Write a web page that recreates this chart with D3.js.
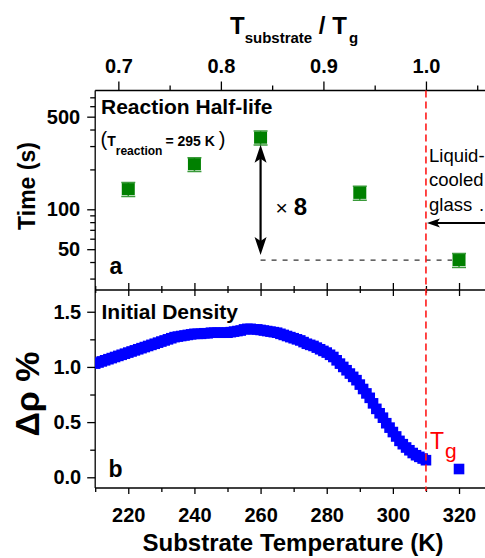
<!DOCTYPE html>
<html>
<head>
<meta charset="utf-8">
<title>Reaction half-life and initial density</title>
<script src="https://cdn.jsdelivr.net/npm/d3@7"></script>
<style>
  * { margin: 0; padding: 0; }
  body { background: #fff; }
  svg { display: block; font-family: "Liberation Sans", Arial, sans-serif; }
</style>
</head>
<body>
<div id="chart"></div>
<script>
// panel a: reaction half-life (s) vs substrate temperature (K)
var halfLifeTemps = [220, 240, 260, 290, 320];
var halfLifeTimes = [142, 219, 347, 133, 41.4];
var halfLifeErr = [17, 26, 42, 16, 5];

// panel b: initial density change (%) vs substrate temperature (K)
var densityTemps = [210, 211, 212, 213, 214, 215, 216, 217, 218, 219,
  220, 221, 222, 223, 224, 225, 226, 227, 228, 229,
  230, 231, 232, 233, 234, 235, 236, 237, 238, 239,
  240, 241, 242, 243, 244, 245, 246, 247, 248, 249,
  250, 251, 252, 253, 254, 255, 256, 257, 258, 259,
  260, 261, 262, 263, 264, 265, 266, 267, 268, 269,
  270, 271, 272, 273, 274, 275, 276, 277, 278, 279,
  280, 281, 282, 283, 284, 285, 286, 287, 288, 289,
  290, 291, 292, 293, 294, 295, 296, 297, 298, 299,
  300, 301, 302, 303, 304, 305, 306, 307, 308, 309,
  310, 320];
var densityValues = [1.03, 1.04, 1.05, 1.06, 1.07, 1.08, 1.09, 1.10, 1.11, 1.12,
  1.13, 1.14, 1.15, 1.16, 1.17, 1.18, 1.19, 1.20, 1.21, 1.22,
  1.23, 1.24, 1.25, 1.26, 1.27, 1.275, 1.28, 1.285, 1.29, 1.295,
  1.30, 1.30, 1.30, 1.305, 1.305, 1.31, 1.31, 1.31, 1.31, 1.31,
  1.31, 1.315, 1.32, 1.325, 1.33, 1.34, 1.345, 1.345, 1.34, 1.34,
  1.335, 1.33, 1.325, 1.32, 1.315, 1.31, 1.30, 1.29, 1.28, 1.27,
  1.26, 1.25, 1.24, 1.225, 1.21, 1.20, 1.19, 1.175, 1.16, 1.145,
  1.13, 1.11, 1.09, 1.06, 1.03, 1.00, 0.97, 0.94, 0.91, 0.88,
  0.84, 0.80, 0.76, 0.72, 0.67, 0.62, 0.58, 0.54, 0.49, 0.45,
  0.41, 0.37, 0.33, 0.30, 0.27, 0.245, 0.22, 0.20, 0.185, 0.17,
  0.155, 0.075];

var tgKelvin = 310;
var tempTicks = [220, 240, 260, 280, 300, 320];
var tempMinorTicks = [210, 230, 250, 270, 290, 310, 330];
var ratioTicks = [0.7, 0.8, 0.9, 1.0];
var ratioMinorTicks = [0.75, 0.85, 0.95, 1.05];
var timeTicks = [50, 100, 500];
var timeMinorTicks = [30, 40, 60, 70, 80, 90, 200, 300, 400, 600, 700];
var densityTicks = [0, 0.5, 1.0, 1.5];
var densityMinorTicks = [0.25, 0.75, 1.25];

var width = 485, height = 558;
var plotLeft = 95.2, plotRight = 492.1;
var aTop = 90.5, midY = 290, bBottom = 488;
var fontFam = '"Liberation Sans", Arial, sans-serif';

var x = d3.scaleLinear().domain([210, 330]).range([plotLeft, plotRight]);
var xRatio = d3.scaleLinear().domain([210 / tgKelvin, 330 / tgKelvin]).range([plotLeft, plotRight]);
var yTime = d3.scaleLog().domain([24.6, 788]).range([midY, aTop]);
var yDens = d3.scaleLinear().domain([-0.097, 1.697]).range([bBottom, midY]);

var svg = d3.select('#chart').append('svg')
    .attr('width', width)
    .attr('height', height);

var defs = svg.append('defs');
defs.append('clipPath').attr('id', 'clipA').append('rect')
    .attr('x', plotLeft).attr('y', aTop).attr('width', plotRight - plotLeft).attr('height', midY - aTop);
defs.append('clipPath').attr('id', 'clipB').append('rect')
    .attr('x', plotLeft).attr('y', midY).attr('width', plotRight - plotLeft).attr('height', bBottom - midY);

function styleAxis(g, size) {
  g.select('.domain').remove();
  g.selectAll('line').attr('stroke', '#000').attr('stroke-width', 1.3);
  g.selectAll('text')
      .attr('font-size', size)
      .attr('font-weight', 'bold')
      .attr('font-family', fontFam)
      .attr('fill', '#000');
}

// top axis (T/Tg)
svg.append('g').attr('transform', 'translate(0,' + aTop + ')')
    .call(d3.axisTop(xRatio).tickValues(ratioTicks).tickSize(9).tickPadding(9).tickFormat(d3.format('.1f')))
    .call(styleAxis, 20);
svg.append('g').attr('transform', 'translate(0,' + aTop + ')')
    .call(d3.axisTop(xRatio).tickValues(ratioMinorTicks).tickSize(5).tickFormat(''))
    .call(styleAxis, 20);

// shared middle axis, ticks crossing the line
[[tempTicks, 7], [tempMinorTicks, 4]].forEach(function(t) {
  svg.append('g').attr('transform', 'translate(0,' + midY + ')')
      .call(d3.axisTop(x).tickValues(t[0]).tickSize(t[1]).tickFormat(''))
      .call(styleAxis, 20);
  svg.append('g').attr('transform', 'translate(0,' + midY + ')')
      .call(d3.axisBottom(x).tickValues(t[0]).tickSize(t[1] - 1).tickFormat(''))
      .call(styleAxis, 20);
});

// bottom axis
svg.append('g').attr('transform', 'translate(0,' + bBottom + ')')
    .call(d3.axisBottom(x).tickValues(tempTicks).tickSize(6).tickPadding(13.5).tickFormat(d3.format('d')))
    .call(styleAxis, 20);
svg.append('g').attr('transform', 'translate(0,' + bBottom + ')')
    .call(d3.axisBottom(x).tickValues(tempMinorTicks).tickSize(4).tickFormat(''))
    .call(styleAxis, 20);

// left axis panel a (log)
svg.append('g').attr('transform', 'translate(' + plotLeft + ',0)')
    .call(d3.axisLeft(yTime).tickValues(timeTicks).tickSize(8).tickPadding(7).tickFormat(d3.format('d')))
    .call(styleAxis, 20);
svg.append('g').attr('transform', 'translate(' + plotLeft + ',0)')
    .call(d3.axisLeft(yTime).tickValues(timeMinorTicks).tickSize(5).tickFormat(''))
    .call(styleAxis, 20);

// left axis panel b
svg.append('g').attr('transform', 'translate(' + plotLeft + ',0)')
    .call(d3.axisLeft(yDens).tickValues(densityTicks).tickSize(8).tickPadding(6).tickFormat(d3.format('.1f')))
    .call(styleAxis, 20);
svg.append('g').attr('transform', 'translate(' + plotLeft + ',0)')
    .call(d3.axisLeft(yDens).tickValues(densityMinorTicks).tickSize(5).tickFormat(''))
    .call(styleAxis, 20);

// frame lines
var frame = svg.append('g').attr('stroke', '#000').attr('stroke-width', 1.3);
frame.append('line').attr('x1', plotLeft).attr('x2', plotLeft).attr('y1', aTop).attr('y2', bBottom);
frame.append('line').attr('x1', plotLeft).attr('x2', plotRight).attr('y1', aTop).attr('y2', aTop);
frame.append('line').attr('x1', plotLeft).attr('x2', plotRight).attr('y1', midY).attr('y2', midY);
frame.append('line').attr('x1', plotLeft).attr('x2', plotRight).attr('y1', bBottom).attr('y2', bBottom);

// ---- panel a marks ----
var gA = svg.append('g').attr('clip-path', 'url(#clipA)');
var halfData = halfLifeTemps.map(function(t, i) {
  return {t: t, v: halfLifeTimes[i], e: halfLifeErr[i]};
});

// dashed reference level from the 260 K point to the 320 K point
gA.append('line')
    .attr('x1', x(260)).attr('x2', x(320) - 7)
    .attr('y1', yTime(halfLifeTimes[4])).attr('y2', yTime(halfLifeTimes[4]))
    .attr('stroke', '#333').attr('stroke-width', 1.2).attr('stroke-dasharray', '5,6');

var errG = gA.selectAll('g.err').data(halfData).enter().append('g')
    .attr('stroke', '#3a9a3a').attr('stroke-width', 1.5);
errG.append('line')
    .attr('x1', function(d) { return x(d.t); }).attr('x2', function(d) { return x(d.t); })
    .attr('y1', function(d) { return yTime(d.v - d.e); }).attr('y2', function(d) { return yTime(d.v + d.e); });
errG.append('line')
    .attr('x1', function(d) { return x(d.t) - 7; }).attr('x2', function(d) { return x(d.t) + 7; })
    .attr('y1', function(d) { return yTime(d.v - d.e); }).attr('y2', function(d) { return yTime(d.v - d.e); });
errG.append('line')
    .attr('x1', function(d) { return x(d.t) - 7; }).attr('x2', function(d) { return x(d.t) + 7; })
    .attr('y1', function(d) { return yTime(d.v + d.e); }).attr('y2', function(d) { return yTime(d.v + d.e); });

gA.selectAll('rect.pt').data(halfData).enter().append('rect')
    .attr('class', 'pt')
    .attr('x', function(d) { return x(d.t) - 6.5; })
    .attr('y', function(d) { return yTime(d.v) - 6; })
    .attr('width', 13).attr('height', 12)
    .attr('fill', '#008000');

// vertical double arrow (x 8)
var ax = x(260), ay1 = yTime(halfLifeTimes[2]) + 7, ay2 = yTime(halfLifeTimes[4]) - 5;
svg.append('line').attr('x1', ax).attr('x2', ax).attr('y1', ay1 + 10).attr('y2', ay2 - 10)
    .attr('stroke', '#000').attr('stroke-width', 2.2);
svg.append('path')
    .attr('d', 'M' + ax + ',' + ay1 + 'L' + (ax - 6) + ',' + (ay1 + 18) + 'L' + ax + ',' + (ay1 + 14) + 'L' + (ax + 6) + ',' + (ay1 + 18) + 'Z')
    .attr('fill', '#000');
svg.append('path')
    .attr('d', 'M' + ax + ',' + ay2 + 'L' + (ax - 6) + ',' + (ay2 - 18) + 'L' + ax + ',' + (ay2 - 14) + 'L' + (ax + 6) + ',' + (ay2 - 18) + 'Z')
    .attr('fill', '#000');

var times = svg.append('text').attr('x', ax + 15).attr('y', 215).attr('fill', '#000');
times.append('tspan').attr('font-size', 21).text('\u00d7');
times.append('tspan').attr('dx', 6).attr('font-size', 24).attr('font-weight', 'bold').text('8');

// horizontal double arrow (liquid-cooled glass region)
var hx1 = x(tgKelvin) + 1, hx2 = plotRight + 6, hy = 223;
svg.append('line').attr('x1', hx1 + 8).attr('x2', hx2 - 8).attr('y1', hy).attr('y2', hy)
    .attr('stroke', '#000').attr('stroke-width', 2);
svg.append('path')
    .attr('d', 'M' + hx1 + ',' + hy + 'L' + (hx1 + 13) + ',' + (hy - 4.5) + 'L' + (hx1 + 10) + ',' + hy + 'L' + (hx1 + 13) + ',' + (hy + 4.5) + 'Z')
    .attr('fill', '#000');
svg.append('path')
    .attr('d', 'M' + hx2 + ',' + hy + 'L' + (hx2 - 13) + ',' + (hy - 4.5) + 'L' + (hx2 - 10) + ',' + hy + 'L' + (hx2 - 13) + ',' + (hy + 4.5) + 'Z')
    .attr('fill', '#000');

var glassLines = ['Liquid-', 'cooled', 'glass'];
svg.selectAll('text.glass').data(glassLines).enter().append('text')
    .attr('class', 'glass')
    .attr('x', 429)
    .attr('y', function(d, i) { return 162 + i * 24.3; })
    .attr('font-size', 18.5)
    .attr('fill', '#000')
    .text(function(d) { return d; });
svg.append('text').attr('x', 479).attr('y', 210.5).attr('font-size', 18.5).attr('fill', '#000').text('.');

// panel a labels
svg.append('text').attr('x', 101).attr('y', 113.5)
    .attr('font-size', 21).attr('font-weight', 'bold').attr('fill', '#000')
    .text('Reaction Half-life');
var cond = svg.append('text').attr('x', 100.5).attr('y', 145.5).attr('font-weight', 'bold').attr('fill', '#000');
cond.append('tspan').attr('font-size', 20).attr('font-weight', 'normal').text('(');
cond.append('tspan').attr('font-size', 14).text('T');
cond.append('tspan').attr('font-size', 12).attr('dy', 9.5).text('reaction');
cond.append('tspan').attr('font-size', 14).attr('dy', -9.5).attr('dx', 3).text('= 295 K');
cond.append('tspan').attr('font-size', 20).attr('font-weight', 'normal').attr('dx', 4).text(')');

svg.append('text').attr('x', 109.5).attr('y', 273.5)
    .attr('font-size', 23).attr('font-weight', 'bold').attr('fill', '#000').text('a');

// ---- panel b marks ----
var gB = svg.append('g').attr('clip-path', 'url(#clipB)');
var densData = densityTemps.map(function(t, i) { return {t: t, v: densityValues[i]}; });
gB.selectAll('rect.dens').data(densData).enter().append('rect')
    .attr('class', 'dens')
    .attr('x', function(d) { return x(d.t) - 5.3; })
    .attr('y', function(d) { return yDens(d.v) - 5.3; })
    .attr('width', 10.6).attr('height', 10.6)
    .attr('fill', '#0000ff');

svg.append('text').attr('x', 101.5).attr('y', 318.5)
    .attr('font-size', 21).attr('font-weight', 'bold').attr('fill', '#000')
    .text('Initial Density');
svg.append('text').attr('x', 108.5).attr('y', 476.5)
    .attr('font-size', 23).attr('font-weight', 'bold').attr('fill', '#000').text('b');

// Tg line
svg.append('line')
    .attr('x1', x(tgKelvin)).attr('x2', x(tgKelvin))
    .attr('y1', aTop).attr('y2', bBottom + 3)
    .attr('stroke', '#ff1a1a').attr('stroke-width', 1.6).attr('stroke-dasharray', '7,4');
var tgLabel = svg.append('text').attr('x', x(tgKelvin) + 4).attr('y', 448.5).attr('fill', '#ff0000');
tgLabel.append('tspan').attr('font-size', 23).text('T');
tgLabel.append('tspan').attr('font-size', 21).attr('dy', 9.5).attr('dx', 1).text('g');

// axis titles
var topTitle = svg.append('text').attr('x', 230).attr('y', 34)
    .attr('font-weight', 'bold').attr('fill', '#000');
topTitle.append('tspan').attr('font-size', 24).text('T');
topTitle.append('tspan').attr('font-size', 15).attr('dy', 9).text('substrate');
topTitle.append('tspan').attr('font-size', 24).attr('dy', -9).text(' / T');
topTitle.append('tspan').attr('font-size', 15).attr('dy', 9).attr('dx', 2).text('g');

svg.append('text')
    .attr('transform', 'translate(35,186) rotate(-90)')
    .attr('text-anchor', 'middle')
    .attr('font-size', 23).attr('font-weight', 'bold').attr('fill', '#000')
    .text('Time (s)');

svg.append('text')
    .attr('transform', 'translate(39,394) rotate(-90)')
    .attr('text-anchor', 'middle')
    .attr('font-size', 34).attr('font-weight', 'bold').attr('fill', '#000')
    .text('\u0394\u03c1 %');

svg.append('text')
    .attr('x', 293).attr('y', 551)
    .attr('text-anchor', 'middle')
    .attr('font-size', 24).attr('font-weight', 'bold').attr('fill', '#000')
    .text('Substrate Temperature (K)');
</script>
</body>
</html>
